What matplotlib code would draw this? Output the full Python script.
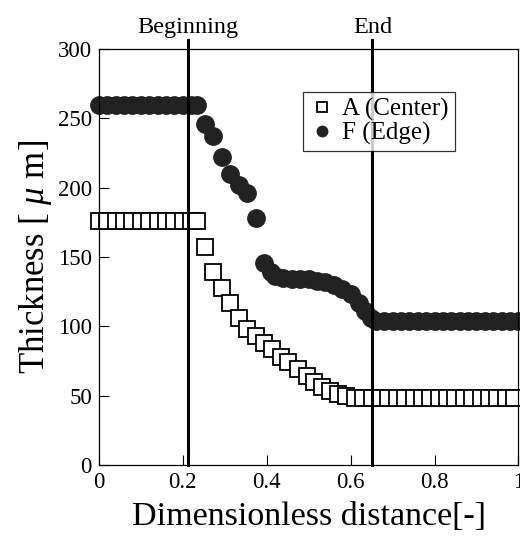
import matplotlib.pyplot as plt

plt.rcParams["font.family"] = ["Liberation Serif", "DejaVu Serif"]
plt.rcParams["mathtext.fontset"] = "custom"
plt.rcParams["mathtext.it"] = "Liberation Serif:italic"
plt.rcParams["mathtext.rm"] = "Liberation Serif"

# --- Data ---
# F (Edge): filled circles
edge_x = [0.00, 0.02, 0.04, 0.06, 0.08, 0.10, 0.12, 0.14, 0.16, 0.18, 0.20, 0.22, 0.235,
          0.252, 0.273, 0.293, 0.313, 0.333, 0.354, 0.374, 0.393,
          0.41, 0.42, 0.44, 0.46, 0.48, 0.50, 0.52, 0.54, 0.56, 0.58, 0.60, 0.62, 0.635, 0.648,
          0.66, 0.68, 0.70, 0.72, 0.74, 0.76, 0.78, 0.80, 0.82, 0.84, 0.86, 0.88, 0.90, 0.92,
          0.94, 0.96, 0.98, 1.00]
edge_y = [260, 260, 260, 260, 260, 260, 260, 260, 260, 260, 260, 260, 260,
          246, 237, 222, 210, 202, 196, 178, 146,
          139, 136, 135, 134, 134, 134, 133, 132, 130, 127, 123, 117, 111, 106,
          104, 104, 104, 104, 104, 104, 104, 104, 104, 104, 104, 104, 104, 104,
          104, 104, 104, 104]

# A (Center): open squares
center_x = [0.00, 0.02, 0.04, 0.06, 0.08, 0.10, 0.12, 0.14, 0.16, 0.18, 0.20, 0.22, 0.235,
            0.252, 0.271, 0.293, 0.312, 0.333, 0.352, 0.374, 0.393, 0.412, 0.433, 0.452,
            0.474, 0.495, 0.514, 0.533, 0.552, 0.571, 0.59, 0.61,
            0.63, 0.65, 0.67, 0.69, 0.71, 0.73, 0.75, 0.77, 0.79, 0.81, 0.83, 0.85, 0.87,
            0.89, 0.91, 0.93, 0.95, 0.97, 0.99]
center_y = [176, 176, 176, 176, 176, 176, 176, 176, 176, 176, 176, 176, 176,
            157, 139, 128, 117, 106, 98, 93, 88, 84, 78, 74,
            69, 64, 60, 56, 53, 51, 49.5, 48.5,
            48, 48, 48, 48, 48, 48, 48, 48, 48, 48, 48, 48, 48,
            48, 48, 48, 48, 48, 48]

beginning_x = 0.212
end_x = 0.652

# --- Plot ---
fig = plt.figure(figsize=(5.2, 5.4), dpi=100)
ax = fig.add_axes([0.19, 0.139, 0.807, 0.770])

ax.plot(center_x, center_y, "s", markersize=12, markerfacecolor="white",
        markeredgecolor="black", markeredgewidth=1.3, label="A (Center)", clip_on=False)
ax.plot(edge_x, edge_y, "o", markersize=12.5, color="#222222",
        label="F (Edge)", clip_on=False)

for xv in (beginning_x, end_x):
    ax.axvline(xv, ymin=0, ymax=1.022, color="black", linewidth=2.2, clip_on=False)

ax.text(beginning_x, 1.052, "Beginning", transform=ax.get_xaxis_transform(),
        ha="center", va="center", fontsize=17.5)
ax.text(end_x, 1.052, "End", transform=ax.get_xaxis_transform(),
        ha="center", va="center", fontsize=17.5)

ax.set_xlim(0, 1)
ax.set_ylim(0, 300)
ax.set_xticks([0, 0.2, 0.4, 0.6, 0.8, 1])
ax.set_xticklabels(["0", "0.2", "0.4", "0.6", "0.8", "1"])
ax.set_yticks([0, 50, 100, 150, 200, 250, 300])
ax.tick_params(direction="in", length=7, width=0.8, labelsize=16.5, pad=5)
for s in ax.spines.values():
    s.set_linewidth(0.9)

ax.set_xlabel("Dimensionless distance[-]", fontsize=24.5, labelpad=6)
ax.set_ylabel(r"Thickness [ $\mu$ m]", fontsize=25, labelpad=3)

leg = ax.legend(loc="upper left", bbox_to_anchor=(0.487, 0.898), fontsize=18,
                markerscale=0.6, frameon=True, fancybox=False, edgecolor="black",
                handletextpad=0.3, borderpad=0.25, labelspacing=0.05, handlelength=1.0,
                borderaxespad=0.0)
leg.get_frame().set_linewidth(0.9)

fig.savefig("out.png", dpi=100)
